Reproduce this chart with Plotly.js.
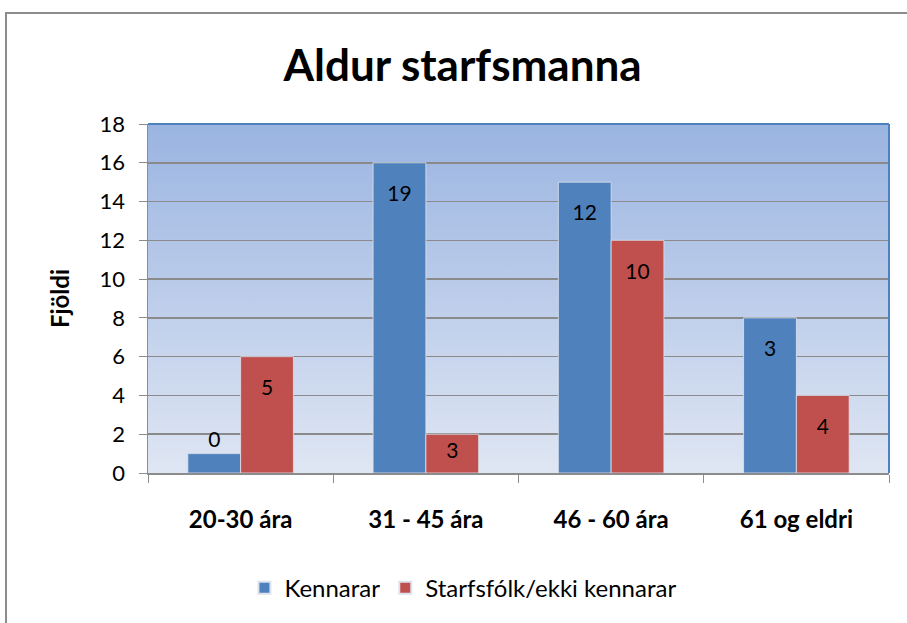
<!DOCTYPE html>
<html>
<head>
<meta charset="utf-8">
<script src="https://cdn.plot.ly/plotly-3.0.1.min.js"></script>
<style>
  html, body { margin: 0; padding: 0; background: #ffffff; }
  #wrap { position: relative; width: 907px; height: 623px; overflow: hidden; }
  #frame { position: absolute; left: 5px; top: 12px; width: 960px; height: 700px;
           border-left: 2px solid #8c8c8c; border-top: 2px solid #8c8c8c; box-sizing: border-box; }
  #chart { position: absolute; left: 0; top: 0; width: 907px; height: 623px; }
</style>
</head>
<body>
<div id="wrap">
  <div id="frame"></div>
  <div id="chart"></div>
</div>
<script>
const categories = ["20-30 ára", "31 - 45 ára", "46 - 60 ára", "61 og eldri"];
const kennararValues = [1, 16, 15, 8];
const kennararLabels = ["0", "19", "12", "3"];
const starfsfolkValues = [6, 2, 12, 4];
const starfsfolkLabels = ["5", "3", "10", "4"];
const yTickValues = [0, 2, 4, 6, 8, 10, 12, 14, 16, 18];

const FONT = "Lato, 'Open Sans', 'Liberation Sans', sans-serif";

// label templates: a small spacer line pushes the label a little below the bar top
const LOW = '<span style="font-size:8px">&nbsp;</span><br>%{text}';
const PLAIN = '%{text}';

const gradSvg = '<svg xmlns="http://www.w3.org/2000/svg" width="100" height="100" preserveAspectRatio="none">' +
  '<defs><linearGradient id="g" x1="0" y1="0" x2="0" y2="1">' +
  '<stop offset="0" stop-color="#9ab4e1"/><stop offset="1" stop-color="#dfe6f3"/>' +
  '</linearGradient></defs><rect width="100" height="100" fill="url(#g)"/></svg>';
const gradUri = 'data:image/svg+xml;base64,' + btoa(gradSvg);

const traces = [
  {
    type: 'bar', name: 'Kennarar', x: categories, y: kennararValues,
    text: kennararLabels, texttemplate: [PLAIN, LOW, LOW, LOW],
    textposition: ['outside', 'inside', 'inside', 'inside'],
    insidetextanchor: 'end', constraintext: 'none', cliponaxis: false,
    textfont: { family: FONT, size: 21, color: '#000000' },
    marker: { color: '#4f81bd', line: { color: '#dde3ee', width: 0.8 } },
    hoverinfo: 'skip'
  },
  {
    type: 'bar', name: 'Starfsfólk/ekki kennarar', x: categories, y: starfsfolkValues,
    text: starfsfolkLabels, texttemplate: [LOW, PLAIN, LOW, LOW],
    textposition: 'inside',
    insidetextanchor: 'end', constraintext: 'none', cliponaxis: false,
    textfont: { family: FONT, size: 21, color: '#000000' },
    marker: { color: '#c0504d', line: { color: '#dde3ee', width: 0.8 } },
    hoverinfo: 'skip'
  }
];

const layout = {
  width: 907, height: 623,
  paper_bgcolor: 'rgba(0,0,0,0)', plot_bgcolor: 'rgba(0,0,0,0)',
  margin: { l: 148, r: 18, t: 124, b: 147, pad: 0 },
  font: { family: FONT, color: '#000000' },
  title: { text: '<b>Aldur starfsmanna</b>', font: { family: FONT, size: 44, color: '#000000' },
           x: 0.51, xanchor: 'center', y: 0.895, yanchor: 'middle' },
  barmode: 'group', bargap: 0.43, bargroupgap: 0,
  showlegend: true,
  legend: { orientation: 'h', x: 0.425, xanchor: 'center', y: -0.33, yanchor: 'middle',
            font: { family: FONT, size: 24, color: '#000000' }, traceorder: 'normal',
            itemwidth: 30, itemsizing: 'constant' },
  xaxis: {
    type: 'category', tickson: 'boundaries', ticks: 'outside', ticklen: 8, tickcolor: '#8c8c8c',
    showline: true, linecolor: '#8c8c8c', linewidth: 1.5, showgrid: false,
    tickfont: { family: FONT, size: 24, color: '#000000', weight: 'bold' },
    ticklabelstandoff: 25, fixedrange: true
  },
  yaxis: {
    range: [0, 18], tickvals: yTickValues, ticktext: yTickValues.map(String),
    ticks: 'outside', ticklen: 8, tickcolor: '#8c8c8c',
    showline: true, linecolor: '#8c8c8c', linewidth: 1.5,
    showgrid: true, gridcolor: '#8a8a8a', gridwidth: 1.5, zeroline: false,
    tickfont: { family: FONT, size: 22, color: '#000000' },
    ticklabelstandoff: 9,
    title: { text: '<b>Fjöldi</b>', font: { family: FONT, size: 24, color: '#000000' }, standoff: 23 },
    fixedrange: true
  },
  images: [{ source: gradUri, xref: 'paper', yref: 'paper', x: 0, y: 1, sizex: 1, sizey: 1,
             xanchor: 'left', yanchor: 'top', sizing: 'stretch', layer: 'below' }],
  shapes: [
    { type: 'line', xref: 'paper', yref: 'paper', x0: 0, x1: 1, y0: 1, y1: 1,
      line: { color: '#4f81bd', width: 2 }, layer: 'above' },
    { type: 'line', xref: 'paper', yref: 'paper', x0: 1, x1: 1, y0: 0, y1: 1,
      line: { color: '#4f81bd', width: 2 }, layer: 'above' }
  ]
};

Plotly.newPlot('chart', traces, layout, { displayModeBar: false, staticPlot: true });
</script>
</body>
</html>
